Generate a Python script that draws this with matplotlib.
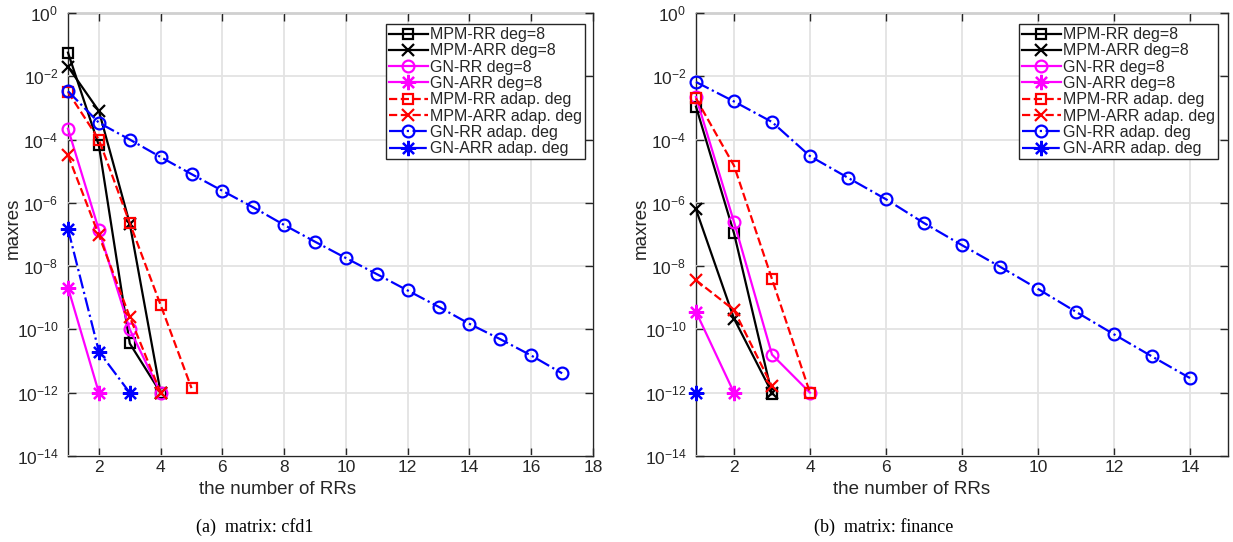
import matplotlib
matplotlib.use("Agg")
import matplotlib.pyplot as plt
import numpy as np

plt.rcParams['font.family'] = ['Liberation Sans', 'DejaVu Sans']
plt.rcParams['mathtext.fontset'] = 'custom'
plt.rcParams['mathtext.rm'] = 'Liberation Sans'
plt.rcParams['mathtext.it'] = 'Liberation Sans:italic'

# ---------------- data: panel (a) cfd1 ----------------
a_mpm_rr8 = [5.6e-2, 6.5e-5, 3.6e-11, 1e-12]
a_mpm_arr8 = [2.0e-2, 8.0e-4, 2.2e-7, 1e-12]
a_gn_rr8 = [2.2e-4, 1.4e-7, 1.0e-10, 1e-12]
a_gn_arr8 = [2.1e-9, 1e-12]
a_mpm_rr_ad = [3.2e-3, 1.0e-4, 2.3e-7, 5.9e-10, 1.4e-12]
a_mpm_arr_ad = [3.2e-5, 9.5e-8, 2.5e-10, 1e-12]
a_gn_rr_ad = [3.4e-3, 3.4e-4, 1.0e-4, 2.8e-5, 8.1e-6, 2.4e-6, 7.2e-7, 2.0e-7,
              5.9e-8, 1.8e-8, 5.6e-9, 1.7e-9, 5.2e-10, 1.5e-10, 4.9e-11,
              1.5e-11, 4.1e-12]
a_gn_arr_ad = [1.5e-7, 2.0e-11, 1e-12]

# ---------------- data: panel (b) finance ----------------
b_mpm_rr8 = [1.1e-3, 1.1e-7, 0.9e-12]
b_mpm_arr8 = [6.2e-7, 2.2e-10, 1e-12]
b_gn_rr8 = [2.2e-3, 2.5e-7, 1.6e-11, 1e-12]
b_gn_arr8 = [3.6e-10, 1e-12]
b_mpm_rr_ad = [2.0e-3, 1.5e-5, 3.9e-9, 1e-12]
b_mpm_arr_ad = [3.6e-9, 4.1e-10, 1.6e-12]
b_gn_rr_ad = [6.6e-3, 1.6e-3, 3.6e-4, 3.0e-5, 6.2e-6, 1.3e-6, 2.3e-7, 4.6e-8,
              9.6e-9, 1.9e-9, 3.6e-10, 7.0e-11, 1.4e-11, 2.9e-12]
b_gn_arr_ad = [1e-12]

labels = ["MPM-RR deg=8", "MPM-ARR deg=8", "GN-RR deg=8", "GN-ARR deg=8",
          "MPM-RR adap. deg", "MPM-ARR adap. deg", "GN-RR adap. deg", "GN-ARR adap. deg"]
ytick_exps = [0, -2, -4, -6, -8, -10, -12, -14]
xticks_a = [2, 4, 6, 8, 10, 12, 14, 16, 18]
xticks_b = [2, 4, 6, 8, 10, 12, 14]

ast = (8, 2, 0)
styles = [
    dict(color='k', ls='-', marker='s', ms=7),
    dict(color='k', ls='-', marker='x', ms=9),
    dict(color=(1, 0, 1), ls='-', marker='o', ms=8.5),
    dict(color=(1, 0, 1), ls='-', marker=ast, ms=11),
    dict(color='r', ls='--', marker='s', ms=7),
    dict(color='r', ls='--', marker='x', ms=9),
    dict(color='b', ls='-.', marker='o', ms=8.5),
    dict(color='b', ls='-.', marker=ast, ms=11),
]

W, H = 1233, 542
fig = plt.figure(figsize=(W / 100, H / 100), dpi=100)

def make_panel(rect, series, xlim, xticks, legend_rect):
    ax = fig.add_axes([rect[0] / W, 1 - rect[3] / H, (rect[2] - rect[0]) / W, (rect[3] - rect[1]) / H])
    handles = []
    for s, st in zip(series, styles):
        x = np.arange(1, len(s) + 1)
        h, = ax.plot(x, s, lw=1.6, mfc='none', mew=1.6, clip_on=False, **st)
        handles.append(h)
    ax.set_yscale('log')
    ax.set_xlim(*xlim)
    ax.set_ylim(1e-14, 1)
    ax.set_yticks([10.0 ** e for e in ytick_exps])
    ax.set_yticklabels([r'$10^{%d}$' % e for e in ytick_exps])
    ax.minorticks_off()
    ax.set_xticks(xticks)
    ax.set_xticklabels([str(t) for t in xticks])
    ax.grid(True, color='#e3e3e3', lw=1.3)
    ax.set_axisbelow(True)
    for sp in ax.spines.values():
        sp.set_color('#262626')
        sp.set_linewidth(1.0)
        sp.set_zorder(0.5)
    ax.tick_params(direction='in', top=True, right=True, length=6, width=1.0,
                   color='#262626', labelsize=12.5, labelcolor='#262626')
    ax.tick_params(axis='y', pad=7)
    ax.tick_params(axis='x', pad=3)
    lx0, ly0, lx1, ly1 = legend_rect
    leg = ax.legend(handles, labels, loc='upper left',
                    bbox_to_anchor=((lx0 - rect[0]) / (rect[2] - rect[0]),
                                    1 - (ly0 - rect[1]) / (rect[3] - rect[1])),
                    fontsize=11.5, frameon=True, fancybox=False, borderpad=0.2,
                    labelspacing=0.08, handlelength=2.4, handletextpad=0.15,
                    borderaxespad=0.0, framealpha=1)
    leg.get_frame().set_edgecolor('#262626')
    leg.get_frame().set_linewidth(1.0)
    leg.set_zorder(5)
    for t in leg.get_texts():
        t.set_color('#262626')
    return ax

make_panel((68, 13, 593, 456),
           [a_mpm_rr8, a_mpm_arr8, a_gn_rr8, a_gn_arr8, a_mpm_rr_ad, a_mpm_arr_ad, a_gn_rr_ad, a_gn_arr_ad],
           (1, 18), xticks_a, (386, 24, 582, 155))
make_panel((696, 13, 1228, 456),
           [b_mpm_rr8, b_mpm_arr8, b_gn_rr8, b_gn_arr8, b_mpm_rr_ad, b_mpm_arr_ad, b_gn_rr_ad, b_gn_arr_ad],
           (1, 15), xticks_b, (1019, 24, 1217, 155))

def ftext(x, y, s, **kw):
    fig.text(x / W, 1 - y / H, s, **kw)

ftext(278, 489, "the number of RRs", ha='center', va='center', fontsize=13.5, color='#262626')
ftext(912, 489, "the number of RRs", ha='center', va='center', fontsize=13.5, color='#262626')
ftext(13, 228, "maxres", ha='center', va='center', rotation=90, fontsize=13.5, color='#262626')
ftext(641, 228, "maxres", ha='center', va='center', rotation=90, fontsize=13.5, color='#262626')
ftext(255, 527, "(a)  matrix: cfd1", ha='center', va='center', fontsize=13,
      family=['Liberation Serif', 'DejaVu Serif'])
ftext(884, 527, "(b)  matrix: finance", ha='center', va='center', fontsize=13,
      family=['Liberation Serif', 'DejaVu Serif'])

fig.savefig("out.png", dpi=100)
